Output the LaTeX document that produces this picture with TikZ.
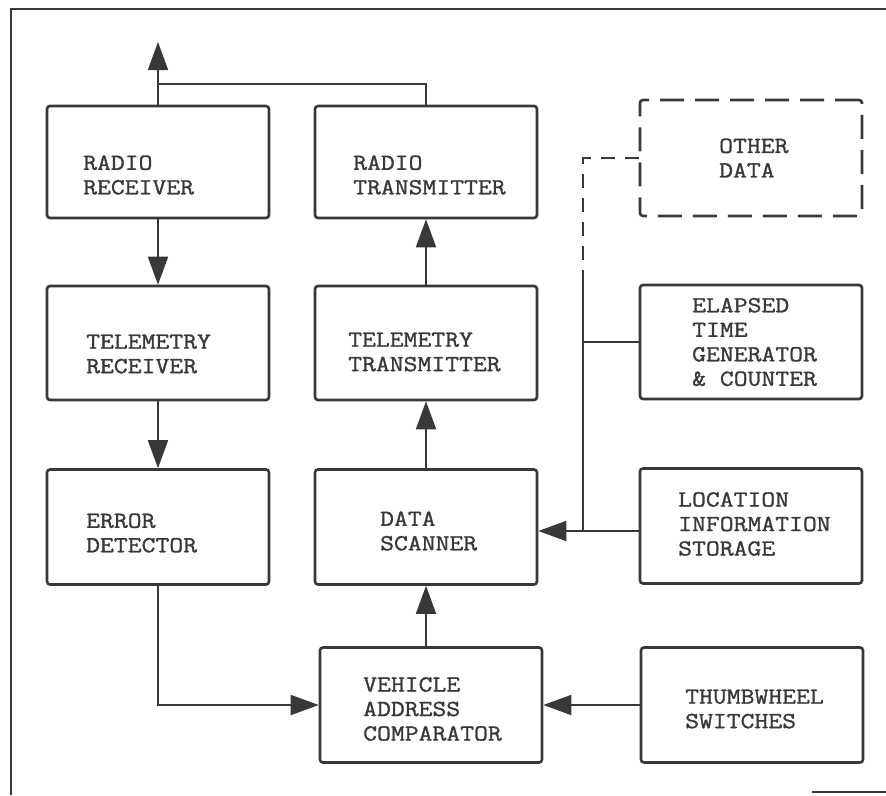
\documentclass[tikz,border=0pt]{standalone}
\usepackage{fontspec}
\newfontfamily\tw{Latin Modern Mono}[FakeStretch=1.17,FakeBold=1.2]
\usetikzlibrary{arrows.meta}
\definecolor{ink}{HTML}{383838}
\begin{document}
\begin{tikzpicture}[x=1pt,y=-1pt,
  box/.style={draw=ink,line width=2.6pt,rounded corners=3pt,minimum width=222pt,inner sep=0pt},
  dbox/.style={box,dash pattern=on 24pt off 11pt},
  txt/.style={anchor=west,align=left,inner sep=0pt,text=ink,font=\tw\fontsize{23}{24.5}\selectfont},
  conn/.style={draw=ink,line width=1.8pt},
  dconn/.style={conn,dash pattern=on 14pt off 10pt},
  arr/.style={conn,-{Triangle[length=28pt,width=20pt]}},
  frame/.style={draw=ink,line width=2.8pt}]
\useasboundingbox (0,0) rectangle (886,795);
% frame
\draw[frame] (11,795) -- (11,9) -- (886,9);
\draw[ink,line width=1.2pt] (812,792) -- (886,792);
% boxes
\node[box,minimum height=112pt] (rr) at (158,162) {};
\node[box,minimum height=112pt] (rt) at (426,162) {};
\node[dbox,minimum height=116pt] (od) at (751,158) {};
\node[box,minimum height=114pt] (tr) at (158,343) {};
\node[box,minimum height=114pt] (ttx) at (426,343) {};
\node[box,minimum height=114pt] (et) at (751,342) {};
\node[box,minimum height=115pt] (ed) at (158,527) {};
\node[box,minimum height=115pt] (ds) at (426,527) {};
\node[box,minimum height=115pt] (loc) at (751,526) {};
\node[box,minimum height=115pt] (vac) at (431,705) {};
\node[box,minimum height=115pt] (tw) at (752,705) {};
% texts
\node[txt] (trr) at (83,175) {RADIO\\RECEIVER};
\node[txt] (trt) at (353,175) {RADIO\\TRANSMITTER};
\node[txt] (tod) at (719,158) {OTHER\\DATA};
\node[txt] (ttr) at (86,354) {TELEMETRY\\RECEIVER};
\node[txt] (tttx) at (348,352) {TELEMETRY\\TRANSMITTER};
\node[txt] (tet) at (692,342) {ELAPSED\\TIME\\GENERATOR\\\& COUNTER};
\node[txt] (ted) at (86,533) {ERROR\\DETECTOR};
\node[txt] (tds) at (380,531) {DATA\\SCANNER};
\node[txt] (tloc) at (678,524) {LOCATION\\INFORMATION\\STORAGE};
\node[txt] (tvac) at (363,709) {VEHICLE\\ADDRESS\\COMPARATOR};
\node[txt] (ttw) at (685,709) {THUMBWHEEL\\SWITCHES};
% connectors
\coordinate (ant) at (158,42);
\coordinate (jn) at (158,84);
\draw[arr] (rr.north) -- (ant);
\draw[conn] (rt.north) |- (jn);
\draw[arr] (rr.south) -- (tr.north);
\draw[arr] (tr.south) -- (ed.north);
\draw[arr] (ed.south) |- (vac.west);
\draw[arr] (tw.west) -- (vac.east);
\draw[arr] (ds.south |- vac.north) -- (ds.south);
\draw[arr] (ds.north) -- (ttx.south);
\draw[arr] (ttx.north) -- (rt.south);
\coordinate (bt) at (583,280);
\coordinate (bb) at (583,531);
\draw[arr] (loc.west |- bb) -- (ds.east |- bb);
\draw[conn] (bt) -- (bb);
\draw[conn] (et.west) -- (et.west -| bt);
\draw[dconn] (od.west) -| (bt);
\end{tikzpicture}
\end{document}
